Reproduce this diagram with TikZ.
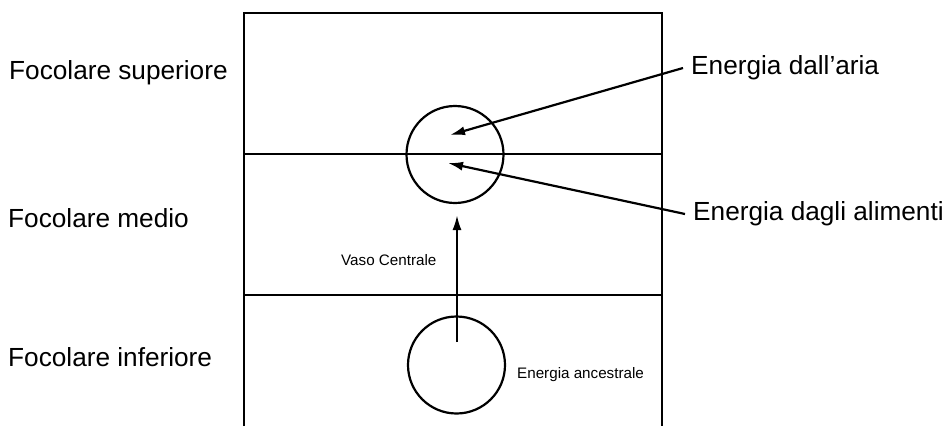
\documentclass[tikz,border=0pt]{standalone}
\usepackage{fontspec}
\setmainfont{Liberation Sans}
\usetikzlibrary{arrows.meta}
\begin{document}
\begin{tikzpicture}[x=1pt,y=1pt,
  wall/.style={line width=2.2pt},
  ring/.style={circle,draw,line width=2.2pt,minimum size=97pt,inner sep=0pt},
  bigtext/.style={font=\fontsize{26.2}{30}\selectfont,inner sep=0pt,anchor=west},
  smalltext/.style={font=\fontsize{15.2}{17}\selectfont,inner sep=0pt,anchor=west},
  lbl/.style={font=\fontsize{26.2}{30}\selectfont,inner xsep=8pt,inner ysep=0pt,anchor=west},
  arr/.style={line width=2.2pt,-{Latex[length=15pt,width=9pt]}}]
\useasboundingbox (0,0) rectangle (942,-426);
% vessel
\coordinate (bl) at (244,-426);
\coordinate (tl) at (244,-13);
\coordinate (tr) at (662,-13);
\coordinate (br) at (662,-426);
\draw[wall] (bl) -- (tl) -- (tr) -- (br);
\coordinate (m1l) at (244,-154);
\coordinate (m1r) at (662,-154);
\coordinate (m2l) at (244,-295);
\coordinate (m2r) at (662,-295);
\draw[wall] (m1l) -- (m1r);
\draw[wall] (m2l) -- (m2r);
% circles
\node[ring] (up) at (455,-154.5) {};
\node[ring] (low) at (456.5,-365) {};
% left labels
\node[bigtext] (fs) at (9,-73) {Focolare superiore};
\node[bigtext] (fm) at (8,-218) {Focolare medio};
\node[bigtext] (fi) at (8,-357) {Focolare inferiore};
% right labels
\node[lbl] (aria) at (683,-68) {Energia dall’aria};
\node[lbl] (alim) at (685,-214) {Energia dagli alimenti};
% small labels
\node[smalltext] (vaso) at (341,-260) {Vaso Centrale};
\node[smalltext] (anc) at (517,-375) {Energia ancestrale};
% arrows
\coordinate (ta) at (450,-135);
\coordinate (tb) at (448,-163);
\coordinate (vs) at (457,-342);
\coordinate (vt) at (457,-215);
\draw[arr] (aria.west) -- (ta);
\draw[arr] (alim.west) -- (tb);
\draw[arr] (vs) -- (vt);
\end{tikzpicture}
\end{document}
